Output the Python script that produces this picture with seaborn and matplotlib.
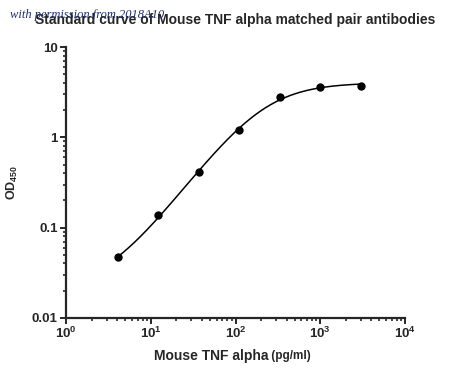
import numpy as np
import pandas as pd
import matplotlib
matplotlib.use("Agg")
import matplotlib.pyplot as plt
import seaborn as sns

# --- data ---
conc = [4.1, 12.3, 37.0, 111.0, 333.0, 1000.0, 3000.0]   # pg/ml
od450 = [0.047, 0.137, 0.41, 1.22, 2.82, 3.6, 3.7]
x_ticks = [1, 10, 100, 1000, 10000]
x_ticklabels = [r"$10^{0}$", r"$10^{1}$", r"$10^{2}$", r"$10^{3}$", r"$10^{4}$"]
y_ticks = [0.01, 0.1, 1, 10]
y_ticklabels = ["0.01", "0.1", "1", "10"]

df = pd.DataFrame({"conc": conc, "od": od450})


# --- 4PL fit (simple Levenberg-Marquardt, done in log10 OD) ---
def four_pl(x, p):
    bottom, top, log_ec50, hill = p
    return bottom + (top - bottom) / (1 + 10 ** ((log_ec50 - np.log10(x)) * hill))


def resid(p, x, y):
    return np.log10(y) - np.log10(np.clip(four_pl(x, p), 1e-6, None))


xs = np.array(conc)
ys = np.array(od450)
p = np.array([0.005, 4.0, np.log10(80.0), 1.0])
lam = 1e-3
for _ in range(300):
    r = resid(p, xs, ys)
    J = np.empty((len(xs), 4))
    for i in range(4):
        dp = np.zeros(4)
        dp[i] = 1e-6
        J[:, i] = -(resid(p + dp, xs, ys) - r) / 1e-6
    A = J.T @ J
    step = np.linalg.solve(A + lam * np.diag(np.diag(A)) + 1e-12 * np.eye(4), J.T @ r)
    cand = p + step
    if np.sum(resid(cand, xs, ys) ** 2) < np.sum(r ** 2):
        p = cand
        lam *= 0.5
    else:
        lam *= 4

x_fit = np.logspace(np.log10(conc[0]), np.log10(conc[-1]), 300)
fit_df = pd.DataFrame({"conc": x_fit, "od": four_pl(x_fit, p)})

# --- style ---
sns.set_style("ticks")
plt.rcParams["font.family"] = ["Liberation Sans", "DejaVu Sans"]
plt.rcParams["font.weight"] = "bold"
plt.rcParams["mathtext.fontset"] = "custom"
plt.rcParams["mathtext.rm"] = "Liberation Sans:bold"
plt.rcParams["mathtext.bf"] = "Liberation Sans:bold"
plt.rcParams["mathtext.it"] = "Liberation Sans:bold:italic"

fig = plt.figure(figsize=(4.5, 3.77), dpi=100)
ax = fig.add_axes([0.147, 0.157, 0.753, 0.718])

sns.lineplot(data=fit_df, x="conc", y="od", color="black", linewidth=1.1, ax=ax)
sns.scatterplot(data=df, x="conc", y="od", color="black", s=36, edgecolor="black",
                linewidth=0, zorder=3, ax=ax)

ax.set_xscale("log")
ax.set_yscale("log")
ax.set_xlim(1, 10000)
ax.set_ylim(0.01, 10)
ax.set_xticks(x_ticks)
ax.set_xticklabels(x_ticklabels)
ax.set_yticks(y_ticks)
ax.set_yticklabels(y_ticklabels)

for side in ["left", "bottom"]:
    ax.spines[side].set_linewidth(1.6)
sns.despine(ax=ax)
ax.tick_params(which="major", length=4, width=1.4, labelsize=9.5, pad=2)
ax.tick_params(which="minor", length=2.5, width=1.2)
for lbl in ax.get_yticklabels():
    lbl.set_fontweight("bold")

ax.set_xlabel("")
ax.set_ylabel(r"OD$_{450}$", fontsize=9, fontweight="bold")
ax.yaxis.set_label_coords(-0.135, 0.5)
ax.text(0.596, -0.115, "Mouse TNF alpha", transform=ax.transAxes, ha="right",
        va="top", fontsize=10, fontweight="bold")
ax.text(0.596, -0.12, " (pg/ml)", transform=ax.transAxes, ha="left",
        va="top", fontsize=8.5, fontweight="bold")
ax.set_title("Standard curve of Mouse TNF alpha matched pair antibodies",
             fontsize=10, fontweight="bold", pad=17)

fig.text(0.022, 0.96, "with permission from 2018A10", fontsize=9,
         fontstyle="italic", family="Liberation Serif", color="#1f2f6b",
         ha="left", va="center", fontweight="normal")

fig.savefig("out.png", dpi=100)
